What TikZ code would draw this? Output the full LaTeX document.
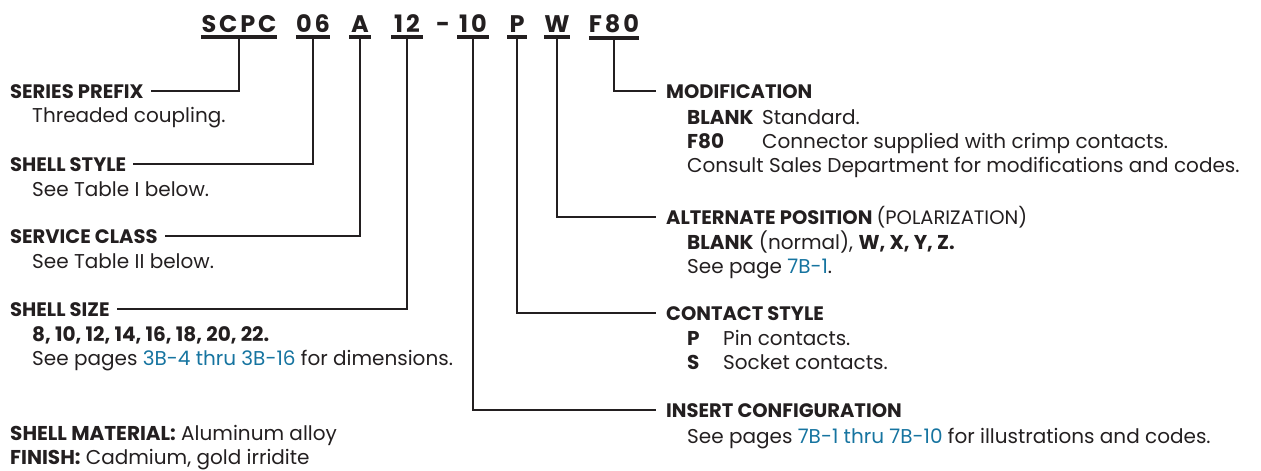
\documentclass[tikz,border=0pt]{standalone}
\usepackage{fontspec}
\setmainfont{Poppins}
\newfontfamily\codefont[LetterSpace=12]{Poppins}
\usetikzlibrary{positioning}
\definecolor{inkgray}{RGB}{35,31,32}
\definecolor{pagelink}{RGB}{22,116,160}
\tikzset{
  code/.style={font=\codefont\bfseries\fontsize{24}{24}\selectfont,
    inner sep=0pt, anchor=base, text=inkgray},
  heading/.style={font=\bfseries\fontsize{19.5}{24}\selectfont, inner sep=0pt,
    anchor=base west, text=inkgray, text height=13.6pt, text depth=0pt},
  body/.style={font=\fontsize{20}{24.3}\selectfont, inner sep=0pt,
    anchor=base west, text=inkgray},
  underbar/.style={line width=4pt, inkgray},
  lead/.style={line width=2.4pt, inkgray, shorten <=5pt},
}
\newcommand{\pg}[1]{\textcolor{pagelink}{#1}}
\newcommand{\tag}[2]{\makebox[#1][l]{\bfseries #2}}
\newenvironment{lines}{\begin{tabular}[t]{@{}l@{}}}{\end{tabular}}

\begin{document}
\begin{tikzpicture}[x=1pt, y=-1pt]
  \useasboundingbox (0,0) rectangle (1261,471);

  %% Part number
  \node[code, minimum width=76pt] (cprefix)  at (239,32) {SCPC};
  \node[code, minimum width=31pt] (cstyle)   at (313,32) {06};
  \node[code, minimum width=21pt] (cclass)   at (360,32) {A};
  \node[code, minimum width=31pt] (csize)    at (407,32) {12};
  \node[code]                     (cdash)    at (443,32) {-};
  \node[code, minimum width=31pt] (cinsert)  at (473,32) {10};
  \node[code, minimum width=19pt] (ccontact) at (517,32) {P};
  \node[code, minimum width=25pt] (cpos)     at (557,32) {W};
  \node[code, minimum width=44pt] (cmod)     at (614,32) {F80};

  \foreach \c in {cprefix, cstyle, cclass, csize, cinsert, ccontact, cpos, cmod}
    \draw[underbar] ([yshift=-5pt]\c.south west) -- ([yshift=-5pt]\c.south east);

  %% Left column
  \node[heading] (hprefix) at (10,98) {SERIES PREFIX};
  \node[body] (bprefix) at (32,122) {Threaded coupling.};

  \node[heading] (hstyle) at (10,171) {SHELL STYLE};
  \node[body] (bstyle) at (32,196) {See Table I below.};

  \node[heading] (hclass) at (10,243) {SERVICE CLASS};
  \node[body] (bclass) at (32,268) {See Table II below.};

  \node[heading] (hsize) at (10,316) {SHELL SIZE};
  \node[body] (bsize) at (32,341) {\begin{lines}
    \textbf{8, 10, 12, 14, 16, 18, 20, 22.}\\
    See pages \pg{3B-4 thru 3B-16} for dimensions.
  \end{lines}};

  \node[body] (material) at (10,440) {\begin{lines}
    \textbf{SHELL MATERIAL:} Aluminum alloy\\
    \textbf{FINISH:} Cadmium, gold irridite
  \end{lines}};

  %% Right column
  \node[heading] (hmod) at (666,98) {MODIFICATION};
  \node[body] (bmod) at (687,124) {\begin{lines}
    \tag{75pt}{BLANK}Standard.\\
    \tag{75pt}{F80}Connector supplied with crimp contacts.\\
    Consult Sales Department for modifications and codes.
  \end{lines}};

  \node[heading] (hpos) at (666,224) {ALTERNATE POSITION \mdseries(POLARIZATION)};
  \node[body] (bpos) at (687,249) {\begin{lines}
    \textbf{BLANK} (normal), \textbf{W, X, Y, Z.}\\
    See page \pg{7B-1}.
  \end{lines}};

  \node[heading] (hcontact) at (666,320) {CONTACT STYLE};
  \node[body] (bcontact) at (687,345) {\begin{lines}
    \tag{36pt}{P}Pin contacts.\\
    \tag{36pt}{S}Socket contacts.
  \end{lines}};

  \node[heading] (hinsert) at (666,417) {INSERT CONFIGURATION};
  \node[body] (binsert) at (687,443)
    {See pages \pg{7B-1 thru 7B-10} for illustrations and codes.};

  %% Leaders
  \draw[lead, shorten >=7pt] (cprefix.south) |- (hprefix.east);
  \draw[lead, shorten >=7pt] (cstyle.south)  |- (hstyle.east);
  \draw[lead, shorten >=7pt] (cclass.south)  |- (hclass.east);
  \draw[lead, shorten >=7pt] (csize.south)   |- (hsize.east);

  \draw[lead, shorten >=10pt] (cmod.south)     |- (hmod.west);
  \draw[lead, shorten >=10pt] (cpos.south)     |- (hpos.west);
  \draw[lead, shorten >=10pt] (ccontact.south) |- (hcontact.west);
  \draw[lead, shorten >=10pt] (cinsert.south)  |- (hinsert.west);

\end{tikzpicture}
\end{document}
